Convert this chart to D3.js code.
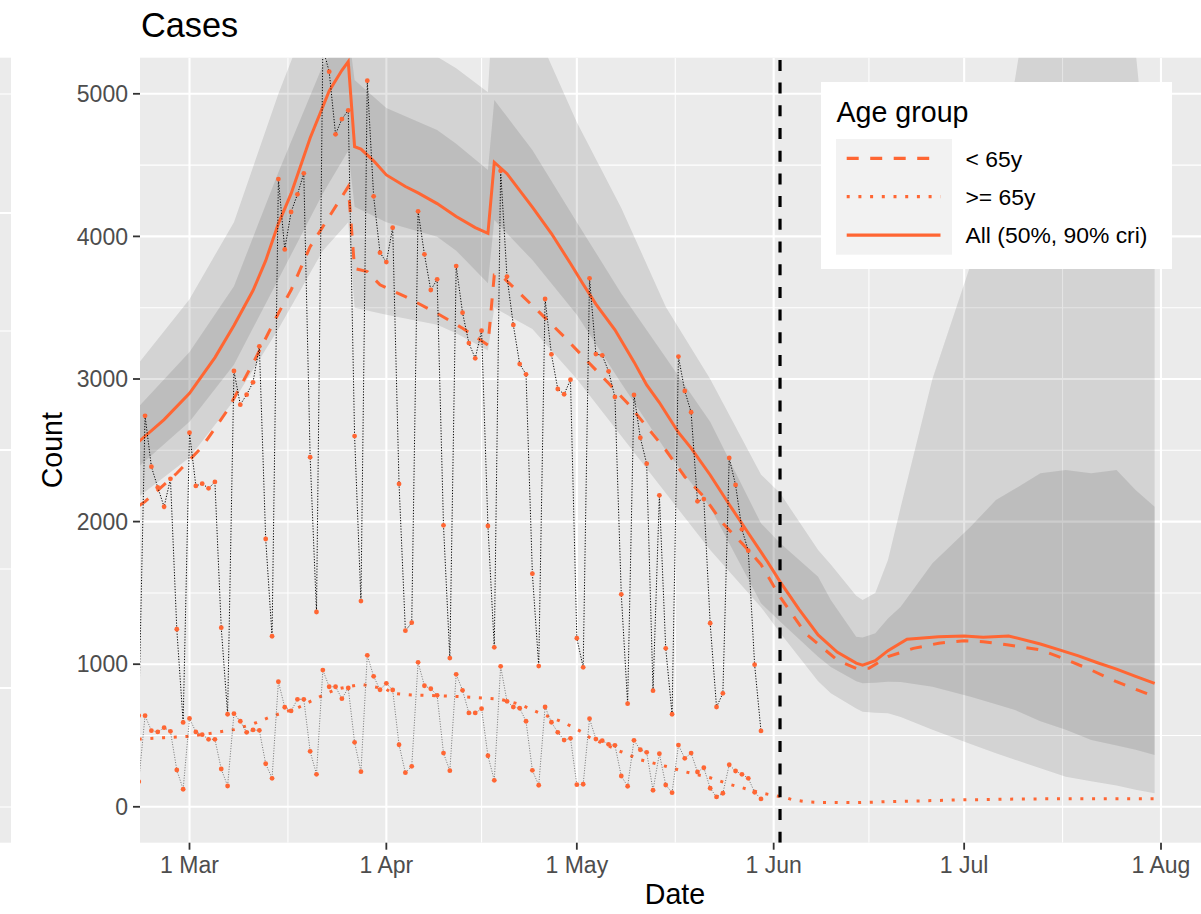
<!DOCTYPE html>
<html><head><meta charset="utf-8">
<script src="https://cdn.jsdelivr.net/npm/d3@7"></script>
<style>body{margin:0;background:#fff} svg{display:block} text{font-family:"Liberation Sans",Arial,Helvetica,sans-serif}</style>
</head><body><svg id="c" width="1201" height="914"></svg>
<script>
// ---------- data ----------
const obsStart = "2020-02-22";   // daily observations from this date
const obsUpper = [640,2742,2385,2240,2104,2300,1245,592,
  2623,2250,2266,2233,2278,1256,649,3056,2820,2890,2977,3229,1878,1196,4402,3909,4171,4295,4442,2452,1366,5320,5155,4716,4823,4884,2600,1443,5092,4281,3886,
  3820,4061,2264,1235,1291,4176,3874,3624,3699,1974,1043,3792,3465,3252,3145,3339,1969,1118,4460,3718,3379,3105,3033,1635,987,3561,3173,2930,2893,2995,
  1182,978,3706,3175,3166,3054,2874,1490,723,2888,2588,2406,814,2184,1111,649,3157,2916,2767,2142,2158,1287,700,796,2446,2257,1946,1796,997,532];
const obsLower = [176,639,534,525,555,529,258,123,
  620,525,506,473,473,265,146,653,600,522,539,536,302,200,877,698,672,754,754,389,228,959,842,842,758,833,452,246,1062,915,821,
  866,819,435,239,284,1013,849,828,782,377,253,929,817,658,658,688,358,186,985,740,700,691,600,256,151,700,593,522,468,480,
  155,158,618,475,464,438,431,216,144,466,400,382,116,372,153,99,433,340,377,244,274,130,69,95,295,251,228,200,102,55];

const allDates = ["02-22","02-26","03-01","03-05","03-08","03-11","03-13","03-15","03-17","03-20","03-23","03-25","03-26","03-27","03-28","03-30","04-01","04-04","04-06","04-09","04-12","04-15","04-17","04-18","04-20","04-24","04-27","04-30","05-02","05-04","05-07","05-10","05-12","05-14","05-17","05-19","05-22","05-25","05-28","05-31","06-02","06-05","06-08","06-11","06-14","06-15","06-17","06-19","06-22","06-27","07-01","07-04","07-08","07-13","07-16","07-19","07-22","07-25","07-28","07-31"];
const allMedian = [2560,2715,2900,3150,3375,3620,3830,4090,4300,4690,5020,5165,5225,4629,4612,4530,4431,4350,4305,4230,4140,4062,4022,4520,4440,4205,4020,3810,3665,3525,3345,3120,2958,2835,2625,2515,2327,2120,1920,1720,1579,1385,1205,1085,1008,994,1025,1095,1175,1192,1198,1189,1198,1142,1100,1058,1010,965,915,866];

const youngDates = ["02-22","02-23","02-28","03-03","03-07","03-11","03-15","03-17","03-20","03-23","03-26","03-27","03-29","03-31","04-04","04-06","04-09","04-13","04-17","04-18","04-19","04-22","04-25","04-29","05-02","05-06","05-09","05-12","05-15","05-18","05-21","05-24","05-27","05-30","06-02","06-06","06-11","06-14","06-16","06-19","06-23","06-27","07-01","07-04","07-08","07-13","07-17","07-21","07-25","07-31"];
const youngMedian = [2110,2140,2339,2525,2783,3110,3461,3624,3928,4138,4349,3775,3753,3660,3577,3531,3461,3356,3238,3729,3729,3601,3472,3297,3156,2970,2830,2666,2502,2315,2175,1988,1848,1700,1473,1217,1029,971,971,1053,1111,1147,1165,1158,1135,1100,1034,959,877,772];

const oldDates = ["02-22","02-26","03-01","03-04","03-08","03-11","03-14","03-18","03-21","03-24","03-26","03-28","03-30","04-01","04-02","04-05","04-09","04-13","04-17","04-19","04-22","04-25","04-29","05-02","05-03","05-08","05-11","05-15","05-18","05-22","05-25","05-27","05-30","06-01","06-03","06-04","06-06","06-08","06-14","06-19","06-30","07-10","07-21","07-31"];
const oldMedian = [475,485,494,513,541,581,635,693,761,824,842,859,842,824,796,784,779,772,761,754,719,660,590,520,487,386,330,284,246,204,158,134,97,80,63,49,36,31,29,36,48,55,57,57];

const bandDates = ["02-22","03-01","03-08","03-15","03-22","03-26","03-27","04-01","04-09","04-12","04-17","04-18","04-24","05-01","05-08","05-15","05-22","05-30","06-02","06-08","06-10","06-14","06-15","06-17","06-19","06-21","06-26","07-02","07-06","07-09","07-13","07-17","07-21","07-25","07-28","07-31"];
const lo90 = [2175,2450,2850,3350,3900,4100,3500,3450,3380,3320,3200,3500,3350,3000,2600,2200,1800,1400,1220,880,796,690,667,660,656,630,540,440,375,330,270,211,180,150,120,95];
const lo50 = [2385,2700,3100,3700,4300,4600,4208,4100,3998,3900,3671,4115,3834,3450,2970,2500,2100,1427,1300,1053,980,880,866,870,877,875,842,772,720,679,600,540,468,430,400,363];
const hi50 = [2806,3190,3650,4450,5200,5450,5097,4900,4746,4650,4466,4957,4606,4100,3600,3150,2700,1988,1850,1614,1450,1193,1188,1217,1320,1403,1708,1964,2151,2230,2339,2362,2339,2362,2222,2104];
const hi90 = [3112,3560,4100,5000,5800,6100,5900,5600,5260,5180,5010,5800,5500,4800,4200,3507,3000,2330,2200,1800,1700,1480,1450,1500,1731,2100,3000,3800,4400,5100,6200,6800,6800,6500,5300,3950];

const yTicks = [0,1000,2000,3000,4000,5000];
const xTickDates = ["2020-03-01","2020-04-01","2020-05-01","2020-06-01","2020-07-01","2020-08-01"];
const xTickLabels = ["1 Mar","1 Apr","1 May","1 Jun","1 Jul","1 Aug"];
const cutoffDate = "2020-06-02";
const legendLabels = ["< 65y", ">= 65y", "All (50%, 90% cri)"];

// ---------- layout ----------
const ORANGE = "#FF6633";
const P = {left:140, right:1210, top:57.7, bottom:842.7};
const svg = d3.select("#c");
const pd = s => new Date("2020-" + s + "T00:00:00Z");
const x = d3.scaleUtc().domain([new Date("2020-03-01T00:00:00Z"), new Date("2020-08-01T00:00:00Z")]).range([189.5, 1161]);
const y = d3.scaleLinear().domain([0,5000]).range([806.8, 93.8]);

// left strip (neighbouring panel)
svg.append("rect").attr("x",0).attr("y",P.top).attr("width",11).attr("height",P.bottom-P.top).attr("fill","#EBEBEB");
[94,213,331,450,569,688,807].forEach((v,i)=>svg.append("line").attr("x1",0).attr("x2",11).attr("y1",v).attr("y2",v)
  .attr("stroke","#fff").attr("stroke-width", i%2===0?1.1:2.1));

// panel
svg.append("defs").append("clipPath").attr("id","clip").append("rect")
  .attr("x",P.left).attr("y",P.top).attr("width",P.right-P.left).attr("height",P.bottom-P.top);
svg.append("rect").attr("x",P.left).attr("y",P.top).attr("width",P.right-P.left).attr("height",P.bottom-P.top).attr("fill","#EBEBEB");
const g = svg.append("g").attr("clip-path","url(#clip)");

// grid
const yMinor = d3.range(500, 5500, 1000);
yMinor.forEach(v=>g.append("line").attr("x1",P.left).attr("x2",P.right).attr("y1",y(v)).attr("y2",y(v)).attr("stroke","#fff").attr("stroke-width",1.05));
const xMaj = xTickDates.map(s=>new Date(s+"T00:00:00Z"));
const xMinor = [];
for (let i=0;i<xMaj.length-1;i++) xMinor.push(new Date((+xMaj[i] + +xMaj[i+1])/2));
xMinor.push(new Date(+xMaj[5] + (+xMaj[5]-+xMaj[4])/2));
xMinor.forEach(d=>g.append("line").attr("x1",x(d)).attr("x2",x(d)).attr("y1",P.top).attr("y2",P.bottom).attr("stroke","#fff").attr("stroke-width",1.05));
yTicks.forEach(v=>g.append("line").attr("x1",P.left).attr("x2",P.right).attr("y1",y(v)).attr("y2",y(v)).attr("stroke","#fff").attr("stroke-width",2.1));
xMaj.forEach(d=>g.append("line").attr("x1",x(d)).attr("x2",x(d)).attr("y1",P.top).attr("y2",P.bottom).attr("stroke","#fff").attr("stroke-width",2.1));

// ribbons
const band = bandDates.map((s,i)=>({d:pd(s), lo90:lo90[i], lo50:lo50[i], hi50:hi50[i], hi90:hi90[i]}));
g.append("path").datum(band).attr("fill","#000").attr("fill-opacity",0.1)
  .attr("d", d3.area().x(d=>x(d.d)).y0(d=>y(d.lo90)).y1(d=>y(d.hi90)));
g.append("path").datum(band).attr("fill","#000").attr("fill-opacity",0.1)
  .attr("d", d3.area().x(d=>x(d.d)).y0(d=>y(d.lo50)).y1(d=>y(d.hi50)));

// model lines
const line = d3.line().x(d=>x(d[0])).y(d=>y(d[1]));
const mk = (ds, vs) => ds.map((s,i)=>[pd(s), vs[i]]);
g.append("path").datum(mk(allDates, allMedian)).attr("fill","none").attr("stroke",ORANGE).attr("stroke-width",3).attr("d",line);
g.append("path").datum(mk(youngDates, youngMedian)).attr("fill","none").attr("stroke",ORANGE).attr("stroke-width",3).attr("stroke-dasharray","12,11.5").attr("d",line);
g.append("path").datum(mk(oldDates, oldMedian)).attr("fill","none").attr("stroke",ORANGE).attr("stroke-width",3).attr("stroke-dasharray","3,8.7").attr("d",line);

// observations
const d0 = new Date(obsStart+"T00:00:00Z");
const obsU = obsUpper.map((v,i)=>[d3.utcDay.offset(d0,i), v]);
const obsL = obsLower.map((v,i)=>[d3.utcDay.offset(d0,i), v]);
g.append("path").datum(obsL).attr("fill","none").attr("stroke","#666").attr("stroke-width",0.9).attr("stroke-dasharray","1,1.6").attr("d",line);
g.append("path").datum(obsU).attr("fill","none").attr("stroke","#000").attr("stroke-width",1).attr("stroke-dasharray","1.2,1.6").attr("d",line);
g.selectAll("circle.l").data(obsL).join("circle").attr("class","l").attr("cx",d=>x(d[0])).attr("cy",d=>y(d[1])).attr("r",2.4).attr("fill",ORANGE);
g.selectAll("circle.u").data(obsU).join("circle").attr("class","u").attr("cx",d=>x(d[0])).attr("cy",d=>y(d[1])).attr("r",2.4).attr("fill",ORANGE);

// cutoff line
const cx = x(new Date(cutoffDate+"T00:00:00Z"));
g.append("line").attr("x1",cx).attr("x2",cx).attr("y1",P.bottom).attr("y2",P.top).attr("stroke","#000").attr("stroke-width",3.2).attr("stroke-dasharray","11,11.7");

// axes
yTicks.forEach(v=>{
  svg.append("line").attr("x1",133).attr("x2",P.left).attr("y1",y(v)).attr("y2",y(v)).attr("stroke","#333").attr("stroke-width",1.8);
  svg.append("text").attr("x",128).attr("y",y(v)).attr("dy","0.36em").attr("text-anchor","end").attr("font-size",23).attr("fill","#4D4D4D").text(v);
});
xMaj.forEach((d,i)=>{
  svg.append("line").attr("x1",x(d)).attr("x2",x(d)).attr("y1",P.bottom).attr("y2",P.bottom+7).attr("stroke","#333").attr("stroke-width",1.8);
  svg.append("text").attr("x",x(d)).attr("y",873).attr("text-anchor","middle").attr("font-size",23).attr("fill","#4D4D4D").text(xTickLabels[i]);
});
svg.append("text").attr("x",(P.left+P.right)/2).attr("y",904).attr("text-anchor","middle").attr("font-size",28.6).attr("fill","#000").text("Date");
svg.append("text").attr("transform",`translate(62,${(P.top+P.bottom)/2}) rotate(-90)`).attr("text-anchor","middle").attr("font-size",28.6).attr("fill","#000").text("Count");
svg.append("text").attr("x",141).attr("y",36.5).attr("font-size",34.3).attr("fill","#000").text("Cases");

// legend
const L = svg.append("g");
L.append("rect").attr("x",821).attr("y",82).attr("width",351).attr("height",187).attr("fill","#fff");
L.append("text").attr("x",836.5).attr("y",121.5).attr("font-size",28.6).attr("fill","#000").text("Age group");
L.append("rect").attr("x",836).attr("y",139).attr("width",116).attr("height",115.7).attr("fill","#F2F2F2");
const dashes = ["12,11.5","3,8.7",null];
legendLabels.forEach((t,i)=>{
  const cy = 158.3 + i*38.4;
  const ln = L.append("line").attr("x1",846.7).attr("x2",940.5).attr("y1",cy).attr("y2",cy).attr("stroke",ORANGE).attr("stroke-width",3.2);
  if (dashes[i]) ln.attr("stroke-dasharray",dashes[i]);
  L.append("text").attr("x",965.5).attr("y",cy).attr("dy","0.36em").attr("font-size",22.9).attr("fill","#000").text(t);
});
</script></body></html>
